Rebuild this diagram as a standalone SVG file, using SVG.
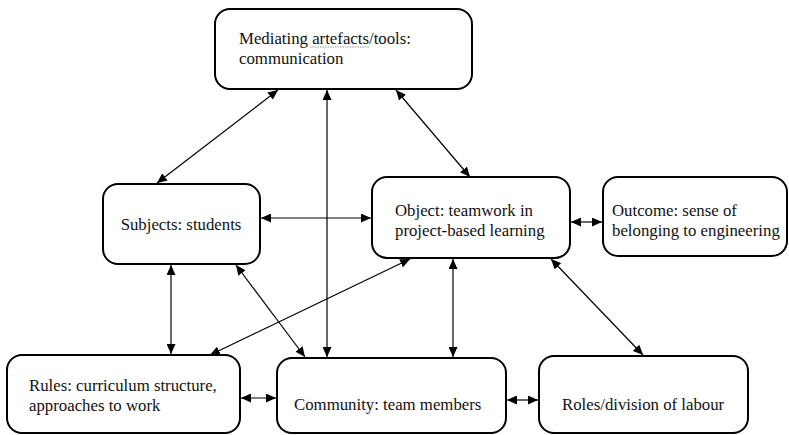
<svg xmlns="http://www.w3.org/2000/svg" width="789" height="435" viewBox="0 0 789 435">
<style>
.box{fill:#fff;stroke:#000;stroke-width:2}
.t{font-family:"Liberation Serif","Times New Roman",serif;font-size:16.8px;fill:#111}
.c{stroke:#000;stroke-width:1.2;fill:none;marker-start:url(#ah);marker-end:url(#ah)}
</style>
<defs>
<marker id="ah" markerUnits="userSpaceOnUse" markerWidth="11" markerHeight="9" refX="10" refY="4.5" orient="auto-start-reverse" viewBox="0 0 11 9">
<path d="M0,0 L10,4.5 L0,9 z" fill="#000"/>
</marker>
</defs>
<rect width="789" height="435" fill="#fff"/>
<g id="connectors">
<line class="c" x1="278" y1="90" x2="157" y2="183"/>
<line class="c" x1="327" y1="90" x2="327" y2="357"/>
<line class="c" x1="396" y1="90" x2="470" y2="177"/>
<line class="c" x1="261" y1="218" x2="371" y2="218"/>
<line class="c" x1="571" y1="222" x2="602" y2="222"/>
<line class="c" x1="171" y1="265" x2="171" y2="354"/>
<line class="c" x1="236" y1="265" x2="305" y2="357"/>
<line class="c" x1="410" y1="259" x2="210" y2="355"/>
<line class="c" x1="453" y1="259" x2="453" y2="357"/>
<line class="c" x1="551" y1="259" x2="643" y2="355"/>
<line class="c" x1="241" y1="398" x2="276" y2="398"/>
<line class="c" x1="507" y1="400" x2="538" y2="400"/>
</g>
<g id="mediating">
<rect class="box" x="215" y="9" width="257" height="80" rx="15"/>
<text class="t" x="239" y="44">Mediating artefacts/tools:</text>
<text class="t" x="239" y="64">communication</text>
<line x1="310" y1="47" x2="370" y2="47" stroke="#999" stroke-width="1" stroke-dasharray="1.5,1"/>
</g>
<g id="subjects">
<rect class="box" x="103" y="184" width="157" height="80" rx="15"/>
<text class="t" x="181" y="230" text-anchor="middle">Subjects: students</text>
</g>
<g id="object">
<rect class="box" x="372" y="177" width="198" height="81" rx="15"/>
<text class="t" x="395" y="216">Object: teamwork in</text>
<text class="t" x="395" y="236">project-based learning</text>
</g>
<g id="outcome">
<rect class="box" x="603" y="177" width="184" height="79" rx="15"/>
<text class="t" x="612" y="216">Outcome: sense of</text>
<text class="t" x="612" y="236">belonging to engineering</text>
</g>
<g id="rules">
<rect class="box" x="7" y="355" width="233" height="78" rx="15"/>
<text class="t" x="29" y="391">Rules: curriculum structure,</text>
<text class="t" x="29" y="411">approaches to work</text>
</g>
<g id="community">
<rect class="box" x="277" y="358" width="229" height="75" rx="15"/>
<text class="t" x="294" y="410">Community: team members</text>
</g>
<g id="roles">
<rect class="box" x="539" y="356" width="209" height="77" rx="15"/>
<text class="t" x="562" y="410">Roles/division of labour</text>
</g>
</svg>
